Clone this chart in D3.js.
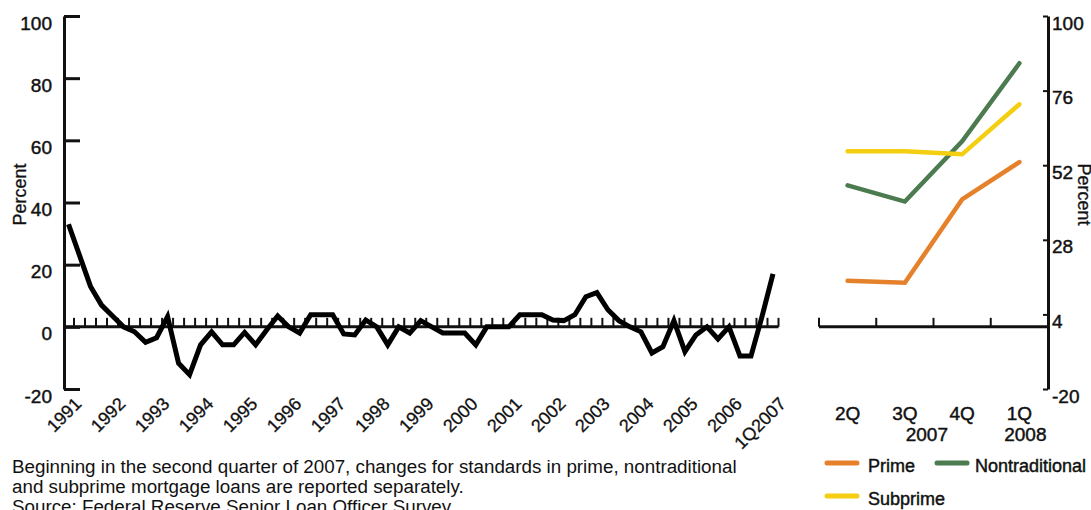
<!DOCTYPE html>
<html>
<head>
<meta charset="utf-8">
<script src="https://cdn.jsdelivr.net/npm/d3@7"></script>
<style>
  body { margin: 0; background: #fff; }
  svg { display: block; font-family: "Liberation Sans", Arial, sans-serif; }
  .lbl { fill: #111; stroke: #111; stroke-width: 0.45px; }
</style>
</head>
<body>
<svg id="chart" width="1091" height="510"></svg>
<script>
// Quarterly net percentage, 1Q1991 .. 1Q2007 (65 quarters)
const quarterValues = [
    33, 23, 13, 7, 3.5, 0, -1.6, -5, -3.5, 3.3, -11.7, -15.4, -5.8, -1.6, -5.8, -5.8,
    -1.8, -5.8, -1, 3.5, 0, -2, 3.9, 3.9, 3.9, -2.3, -2.6, 2.2, 0, -5.8, 0, -2,
    2, 0, -2, -2, -2, -5.8, 0, 0, 0, 3.9, 3.9, 3.9, 2.2, 2, 3.9, 9.7,
    11, 5.5, 2, 0, -1.6, -8.4, -6.4, 2, -8, -2.6, 0, -3.9, 0, -9.4, -9.4, 3.3,
    17
];
const yearLabels = ["1991", "1992", "1993", "1994", "1995", "1996", "1997", "1998", "1999",
    "2000", "2001", "2002", "2003", "2004", "2005", "2006", "1Q2007"];
const leftTicks = [-20, 0, 20, 40, 60, 80, 100];

// Separate series from 2Q2007
const quarters = ["2Q", "3Q", "4Q", "1Q"];
const prime = [14.8, 14.2, 41, 53];
const nontraditional = [45.5, 40.3, 59.7, 84.8];
const subprime = [56.5, 56.5, 55.5, 71.6];
const rightTicks = [-20, 4, 28, 52, 76, 100];

const series = [
    { name: "Prime", values: prime, color: "#E5812B" },
    { name: "Nontraditional", values: nontraditional, color: "#4C7B50" },
    { name: "Subprime", values: subprime, color: "#F4CE10" }
];

const notes = [
    "Beginning in the second quarter of 2007, changes for standards in prime, nontraditional",
    "and subprime mortgage loans are reported separately.",
    "Source: Federal Reserve Senior Loan Officer Survey"
];

const svg = d3.select("#chart");
const ink = "#111";
const plain = d => String(d); // hyphen minus, like the original

// Scales
const y = d3.scaleLinear().domain([-20, 100]).range([389, 16]);
const x = d3.scaleLinear().domain([0, quarterValues.length - 1]).range([68.5, 773]);
const xr = d3.scaleBand().domain(quarters).range([819, 1048]).padding(0);

// ---- Left panel ----
const leftAxis = svg.append("g")
    .attr("transform", "translate(64,0)")
    .call(d3.axisLeft(y).tickValues(leftTicks).tickFormat(plain)
        .tickSizeInner(-16).tickSizeOuter(0).tickPadding(12));
leftAxis.select(".domain").attr("stroke", ink).attr("stroke-width", 3);
leftAxis.selectAll(".tick line").attr("stroke", ink).attr("stroke-width", 3);
leftAxis.selectAll(".tick text")
    .attr("class", "lbl")
    .attr("dy", 13)
    .style("font-size", "19px");

// zero line with quarterly ticks
svg.append("line")
    .attr("x1", 64).attr("x2", x(quarterValues.length - 0.5))
    .attr("y1", y(0)).attr("y2", y(0))
    .attr("stroke", ink).attr("stroke-width", 3);

svg.append("g").selectAll("line")
    .data(d3.range(quarterValues.length))
    .enter().append("line")
    .attr("x1", d => x(d + 0.5)).attr("x2", d => x(d + 0.5))
    .attr("y1", y(0)).attr("y2", y(0) - 9)
    .attr("stroke", ink).attr("stroke-width", 2);

const line = d3.line().x((d, i) => x(i)).y(d => y(d));
svg.append("path")
    .datum(quarterValues)
    .attr("d", line)
    .attr("fill", "none")
    .attr("stroke", "#000")
    .attr("stroke-width", 5);

svg.append("g").selectAll("text")
    .data(yearLabels)
    .enter().append("text")
    .attr("class", "lbl")
    .style("stroke-width", "0.3px")
    .attr("transform", (d, i) => `translate(${x(i * 4) + 14},405) rotate(-45)`)
    .style("text-anchor", "end")
    .style("font-size", "18px")
    .text(d => d);

svg.append("text")
    .attr("class", "lbl")
    .style("stroke-width", "0.3px")
    .attr("transform", `translate(26,${y(40) - 8}) rotate(-90)`)
    .style("text-anchor", "middle")
    .style("font-size", "18px")
    .text("Percent");

// ---- Right panel ----
const rightAxis = svg.append("g")
    .attr("transform", "translate(1048,0)")
    .call(d3.axisRight(y).tickValues(rightTicks).tickFormat(plain)
        .tickSizeInner(-5).tickSizeOuter(0).tickPadding(4));
rightAxis.select(".domain").attr("stroke", ink).attr("stroke-width", 3);
rightAxis.selectAll(".tick line").attr("stroke", ink).attr("stroke-width", 2);
rightAxis.selectAll(".tick text")
    .attr("class", "lbl")
    .attr("dy", 13)
    .style("font-size", "19px");

svg.append("line")
    .attr("x1", xr.range()[0]).attr("x2", xr.range()[1])
    .attr("y1", y(0)).attr("y2", y(0))
    .attr("stroke", ink).attr("stroke-width", 3);

svg.append("g").selectAll("line")
    .data(d3.range(quarters.length + 1))
    .enter().append("line")
    .attr("x1", d => xr.range()[0] + d * xr.step())
    .attr("x2", d => xr.range()[0] + d * xr.step())
    .attr("y1", y(0)).attr("y2", y(0) - 9)
    .attr("stroke", ink).attr("stroke-width", 2);

const rline = d3.line().x((d, i) => xr(quarters[i]) + xr.bandwidth() / 2).y(d => y(d));
svg.append("g").selectAll("path")
    .data(series)
    .enter().append("path")
    .attr("d", d => rline(d.values))
    .attr("fill", "none")
    .attr("stroke", d => d.color)
    .attr("stroke-width", 4.5)
    .attr("stroke-linecap", "round");

svg.append("g").selectAll("text")
    .data(quarters)
    .enter().append("text")
    .attr("class", "lbl")
    .attr("x", d => xr(d) + xr.bandwidth() / 2)
    .attr("y", 420)
    .style("text-anchor", "middle")
    .style("font-size", "19px")
    .text(d => d);

svg.append("text")
    .attr("class", "lbl")
    .attr("x", xr("3Q") + xr.bandwidth() / 2 + 22).attr("y", 441)
    .style("text-anchor", "middle").style("font-size", "19px")
    .text("2007");
svg.append("text")
    .attr("class", "lbl")
    .attr("x", xr("1Q") + xr.bandwidth() / 2 + 6).attr("y", 441)
    .style("text-anchor", "middle").style("font-size", "19px")
    .text("2008");

svg.append("text")
    .attr("class", "lbl")
    .style("stroke-width", "0.3px")
    .attr("transform", `translate(1078,${y(40) - 8}) rotate(90)`)
    .style("text-anchor", "middle")
    .style("font-size", "18px")
    .text("Percent");

// Legend
const legendPos = [[827, 463], [937, 463], [827, 496]];
const legend = svg.append("g").selectAll("g")
    .data(series)
    .enter().append("g")
    .attr("transform", (d, i) => `translate(${legendPos[i][0]},${legendPos[i][1]})`);
legend.append("line")
    .attr("x1", 0).attr("x2", 30)
    .attr("stroke", d => d.color)
    .attr("stroke-width", 5)
    .attr("stroke-linecap", "round");
legend.append("text")
    .attr("class", "lbl")
    .attr("x", d => d.name === "Nontraditional" ? 38 : 41)
    .attr("y", 9)
    .style("font-size", "18px")
    .text(d => d.name);

// Notes
svg.append("g").selectAll("text")
    .data(notes)
    .enter().append("text")
    .attr("x", 12)
    .attr("y", (d, i) => 473 + i * 20)
    .style("font-size", "18.8px")
    .style("fill", ink)
    .text(d => d);
</script>
</body>
</html>
